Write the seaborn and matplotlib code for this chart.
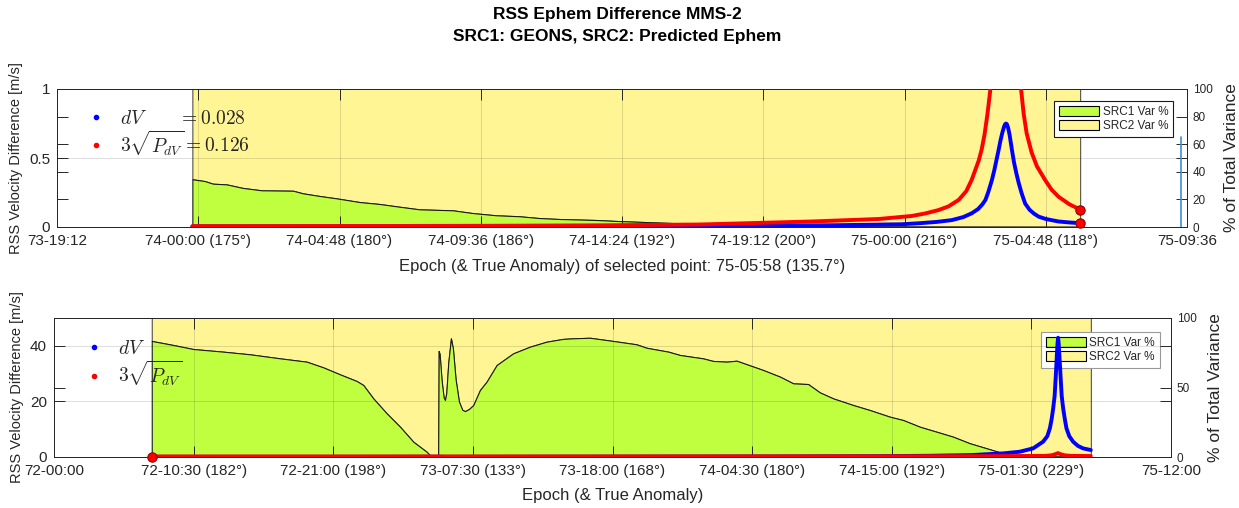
import numpy as np
import pandas as pd
import matplotlib
matplotlib.use("Agg")
import matplotlib.pyplot as plt
import seaborn as sns
from matplotlib.lines import Line2D
from matplotlib.patches import Patch

# ---------------- data: top panel (hours since 73-19:12) ----------------
top_xticks_h = [0, 4.8, 9.6, 14.4, 19.2, 24.0, 28.8, 33.6, 38.4]
top_xtick_labels = ["73-19:12", "74-00:00 (175°)", "74-04:48 (180°)", "74-09:36 (186°)",
                    "74-14:24 (192°)", "74-19:12 (200°)", "75-00:00 (216°)", "75-04:48 (118°)",
                    "75-09:36"]
top_var_h = [4.6, 5.02, 5.30, 5.76, 6.32, 6.95, 8.02, 8.36, 8.92, 9.49, 10.28, 10.96, 11.64,
             12.32, 13.45, 14.13, 14.92, 15.71, 16.39, 17.07, 18.31, 19.1, 21.14, 22.5, 24.0,
             26.0, 30.0, 34.77]
top_src1_pct = [34.6, 33.3, 31.4, 30.9, 28.3, 26.6, 26.3, 24.4, 22.5, 20.8, 18.1, 16.7, 14.7,
                12.8, 12.1, 10.1, 8.5, 7.8, 6.5, 5.8, 5.1, 4.3, 2.7, 1.4, 0.8, 0.5, 0.3, 0.2]
top_dv_h = [4.6, 10, 15, 20, 24, 26.5, 28.71, 29.28, 29.9, 30.41, 30.8, 31.09, 31.3, 31.45,
            31.55, 31.65, 31.77, 31.85, 31.93, 32.0, 32.06, 32.12, 32.18, 32.22, 32.25, 32.28,
            32.32, 32.37, 32.45, 32.52, 32.6, 32.68, 32.78, 32.9, 33.05, 33.2, 33.36, 33.6,
            34.03, 34.4, 34.77]
top_dv = [0.004, 0.004, 0.005, 0.006, 0.009, 0.013, 0.02, 0.027, 0.037, 0.05, 0.072, 0.10,
          0.13, 0.165, 0.196, 0.255, 0.34, 0.41, 0.49, 0.56, 0.625, 0.68, 0.725, 0.745, 0.75,
          0.745, 0.72, 0.67, 0.56, 0.47, 0.39, 0.32, 0.245, 0.17, 0.125, 0.097, 0.075, 0.058,
          0.04, 0.033, 0.028]
top_sig_h = [4.6, 10, 15, 18.43, 21.82, 23.40, 25.65, 27.93, 29.05, 29.5, 29.96, 30.3, 30.64,
             30.9, 31.08, 31.2, 31.32, 31.42, 31.52, 31.62, 31.72, 31.85, 31.95, 32.1, 32.25,
             32.4, 32.55, 32.66, 32.76, 32.85, 32.95, 33.12, 33.3, 33.58, 33.8, 34.03, 34.4,
             34.77]
top_sig = [0.006, 0.007, 0.009, 0.012, 0.018, 0.027, 0.04, 0.058, 0.08, 0.098, 0.123, 0.15,
           0.196, 0.26, 0.34, 0.41, 0.48, 0.56, 0.67, 0.82, 1.0, 1.3, 1.6, 2.0, 2.3, 2.0, 1.5,
           1.2, 1.0, 0.82, 0.68, 0.54, 0.44, 0.34, 0.27, 0.22, 0.165, 0.126]
top_sel_h = [34.77, 34.77]
top_sel_v = [0.126, 0.028]
top_dv_value = "0.028"
top_sig_value = "0.126"
top_stray_h = [38.2, 38.2]
top_stray_v = [0.0, 0.65]

# ---------------- data: bottom panel (hours since 72-00:00) ----------------
bot_xticks_h = [0, 10.5, 21, 31.5, 42, 52.5, 63, 73.5, 84]
bot_xtick_labels = ["72-00:00", "72-10:30 (182°)", "72-21:00 (198°)", "73-07:30 (133°)",
                    "73-18:00 (168°)", "74-04:30 (180°)", "74-15:00 (192°)", "75-01:30 (229°)",
                    "75-12:00"]
bot_var_h = [7.35, 8.97, 10.47, 12.73, 14.74, 16.99, 19.0, 20.25, 21.5, 22.76, 23.26, 24.01,
             25.02, 26.02, 27.02, 28.02, 28.3, 28.6, 28.89, 28.93, 29.0, 29.15, 29.3, 29.4,
             29.5, 29.65, 29.85, 30.0, 30.2, 30.45, 30.7, 30.9, 31.2, 31.53, 32.03, 32.53,
             33.29, 34.53, 35.79, 37.05, 38.3, 39.05, 40.3, 42.05, 43.8, 44.56, 46.2, 47.07,
             48.8, 49.57, 50.6, 51.33, 53.33, 54.6, 55.59, 56.71, 57.59, 58.59, 60.1, 61.35,
             62.86, 63.86, 65.11, 66.37, 67.62, 68.87, 70.13, 71.13, 72.13, 74.9, 77.97]
bot_src1_pct = [83.5, 80.6, 77.7, 75.8, 73.9, 71.0, 68.6, 64.5, 59.5, 54.7, 51.8, 42.2,
                31.4, 21.8, 11.0, 3.8, 1.0, 0.3, 0.3, 76.3, 74.0, 55.0, 43.0, 41.0,
                46.0, 68.0, 85.4, 78.0, 56.0, 40.0, 34.0, 33.0, 34.5, 37.4, 48.2, 54.2,
                66.2, 74.6, 79.4, 83.0, 85.0, 85.4, 85.8, 83.5, 81.1, 78.6, 75.8, 73.4,
                71.0, 69.1, 68.6, 69.3, 62.6, 57.8, 53.0, 52.5, 46.5, 42.2, 37.4, 33.8,
                29.0, 26.6, 21.8, 18.2, 14.6, 9.9, 6.3, 3.4, 1.0, 0.4, 0.3]
bot_dv_h = [7.35, 20, 28.9, 29.5, 35, 45, 55, 62, 66, 69, 71.38, 72.63, 73.63, 74.38, 74.7,
            74.89, 75.02, 75.14, 75.25, 75.34, 75.42, 75.47, 75.51, 75.55, 75.6, 75.69, 75.78,
            75.89, 76.02, 76.14, 76.35, 76.64, 77.0, 77.39, 77.97]
bot_dv = [0.05, 0.05, 0.1, 0.05, 0.1, 0.15, 0.2, 0.3, 0.45, 0.7, 1.3, 1.9, 3.1, 5.5, 7.5,
          10.3, 13.5, 17.5, 22.0, 29.5, 37.0, 41.0, 42.9, 41.0, 37.0, 29.5, 22.0, 17.5, 13.5,
          10.3, 7.5, 5.5, 4.0, 3.1, 2.5]
bot_sig_h = [7.35, 20, 40, 60, 70, 74.5, 75.0, 75.3, 75.5, 75.7, 76.0, 76.5, 77.97]
bot_sig = [0.2, 0.2, 0.2, 0.25, 0.3, 0.4, 0.6, 1.0, 1.4, 1.0, 0.6, 0.4, 0.35]
bot_sel_h = [7.35]
bot_sel_v = [0.0]

# ---------------- text ----------------
title_1 = "RSS Ephem Difference MMS-2"
title_2 = "SRC1: GEONS, SRC2: Predicted Ephem"
top_xlabel = "Epoch (& True Anomaly) of selected point: 75-05:58 (135.7°)"
bot_xlabel = "Epoch (& True Anomaly)"
ylabel_left = "RSS Velocity Difference [m/s]"
ylabel_right = "% of Total Variance"
var_labels = ["SRC1 Var %", "SRC2 Var %"]

# ---------------- style ----------------
sns.set_theme(style="white")
plt.rcParams["font.family"] = ["Liberation Sans", "DejaVu Sans"]
plt.rcParams["mathtext.fontset"] = "cm"

GREEN = "#c0ff40"
YELLOW = "#fff594"
INK = "#262626"
W, H = 1239, 508

fig = plt.figure(figsize=(W / 100, H / 100), dpi=100)
fig.patch.set_facecolor("white")

ax_t = fig.add_axes([57 / W, 1 - 227 / H, (1187 - 57) / W, (227 - 89) / H])
ax_b = fig.add_axes([54 / W, 1 - 457 / H, (1171 - 54) / W, (457 - 318) / H])


def panel(ax, xticks, xlabels, xmax, ylim, yticks, yticklabels, rticks,
          var_h, pct, dv_h, dv, sig_h, sig, sel_h, sel_v, leg_anchor, leg_edge, rpad):
    ax2 = ax.twinx()
    # stacked % variance areas
    ax2.fill_between(var_h, pct, 100, facecolor=YELLOW, edgecolor="#3a3a3a", lw=0.7, zorder=1)
    ax2.fill_between(var_h, 0, pct, facecolor=GREEN, edgecolor="#1a1a1a", lw=0.8, zorder=2)
    ax2.set_ylim(0, 100)
    ax2.set_yticks(rticks)
    ax2.set_yticklabels([str(r) for r in rticks])
    ax2.tick_params(axis="y", direction="in", length=8, width=0.7, left=True, right=True,
                    labelleft=False, labelright=True, labelsize=8.5, colors=INK, pad=4)
    ax2.set_ylabel(ylabel_right, fontsize=12.5, color=INK, labelpad=rpad)
    leg2 = ax2.legend(handles=[Patch(facecolor=GREEN, edgecolor="black", lw=0.8),
                               Patch(facecolor=YELLOW, edgecolor="black", lw=0.8)],
                      labels=var_labels, loc="upper right", bbox_to_anchor=leg_anchor,
                      borderaxespad=0, fontsize=8.5, handlelength=3.4, handleheight=0.95,
                      labelspacing=0.2, handletextpad=0.3, borderpad=0.4,
                      fancybox=False, framealpha=1, edgecolor=leg_edge)
    leg2.get_frame().set_linewidth(0.8)
    for s in ax2.spines.values():
        s.set_color(INK)
        s.set_linewidth(0.7)

    ax.set_zorder(ax2.get_zorder() + 1)
    ax.patch.set_visible(False)
    sns.lineplot(x=dv_h, y=dv, ax=ax, color="#0000ff", lw=2.8, estimator=None, zorder=3,
                 solid_joinstyle="round", solid_capstyle="round")
    sns.lineplot(x=sig_h, y=sig, ax=ax, color="#ff0000", lw=2.8, estimator=None, zorder=4,
                 solid_joinstyle="round", solid_capstyle="round")
    sns.scatterplot(x=sel_h, y=sel_v, ax=ax, color="#ff0000", edgecolor="#8b0000", s=45,
                    linewidth=0.8, zorder=5, clip_on=False)
    ax.set_xlim(0, xmax)
    ax.set_ylim(*ylim)
    ax.set_xticks(xticks)
    ax.set_xticklabels(xlabels)
    ax.set_yticks(yticks)
    ax.set_yticklabels(yticklabels)
    ax.tick_params(axis="both", direction="in", length=8, width=0.7, top=True, bottom=True,
                   left=True, right=True, labelsize=11, colors=INK, pad=5)
    ax.grid(True, color=INK, alpha=0.15, lw=0.7)
    ax.set_ylabel(ylabel_left, fontsize=10.5, color=INK, labelpad=4)
    for s in ax.spines.values():
        s.set_color(INK)
        s.set_linewidth(0.7)
    return ax2


ax2_t = panel(ax_t, top_xticks_h, top_xtick_labels, 38.4, (0, 1), [0, 0.5, 1],
              ["0", "0.5", "1"], [0, 20, 40, 60, 80, 100],
              top_var_h, top_src1_pct, top_dv_h, top_dv, top_sig_h, top_sig,
              top_sel_h, top_sel_v, (0.9876, 0.913), "#1a1a1a", 8)
ax_t.plot(top_stray_h, top_stray_v, color="#3c8ed8", lw=1.2, zorder=2)

ax2_b = panel(ax_b, bot_xticks_h, bot_xtick_labels, 84, (0, 50), [0, 20, 40],
              ["0", "20", "40"], [0, 50, 100],
              bot_var_h, bot_src1_pct, bot_dv_h, bot_dv, bot_sig_h, bot_sig,
              bot_sel_h, bot_sel_v, (0.990, 0.899), "#9a9a9a", 8)

ax_t.set_xlabel(top_xlabel, fontsize=12, color=INK, labelpad=8)
ax_b.set_xlabel(bot_xlabel, fontsize=12, color=INK, labelpad=7)

# left math legends
dot = dict(marker=".", ls="none", markersize=6)
h_dv = Line2D([], [], color="#0000ff", **dot)
h_sig = Line2D([], [], color="#ff0000", **dot)
ax_t.legend([h_dv, h_sig],
            [r"$dV\qquad\,= " + top_dv_value + "$",
             r"$3\sqrt{P_{dV}} = " + top_sig_value + "$"],
            loc="upper left", bbox_to_anchor=(0.0257, 0.85), borderaxespad=0, borderpad=0,
            frameon=False, fontsize=14, handlelength=1, handletextpad=0.75, labelspacing=0.0)
ax_b.legend([h_dv, h_sig], [r"$dV$", r"$3\sqrt{P_{dV}}$"],
            loc="upper left", bbox_to_anchor=(0.0269, 0.84), borderaxespad=0, borderpad=0,
            frameon=False, fontsize=14, handlelength=1, handletextpad=0.75, labelspacing=0.0)

fig.text(0.498, 1 - 15 / H, title_1, ha="center", va="center", fontsize=12.5,
         fontweight="bold", color="black")
fig.text(0.498, 1 - 37 / H, title_2, ha="center", va="center", fontsize=12.5,
         fontweight="bold", color="black")

fig.savefig("out.png", dpi=100, facecolor="white")
